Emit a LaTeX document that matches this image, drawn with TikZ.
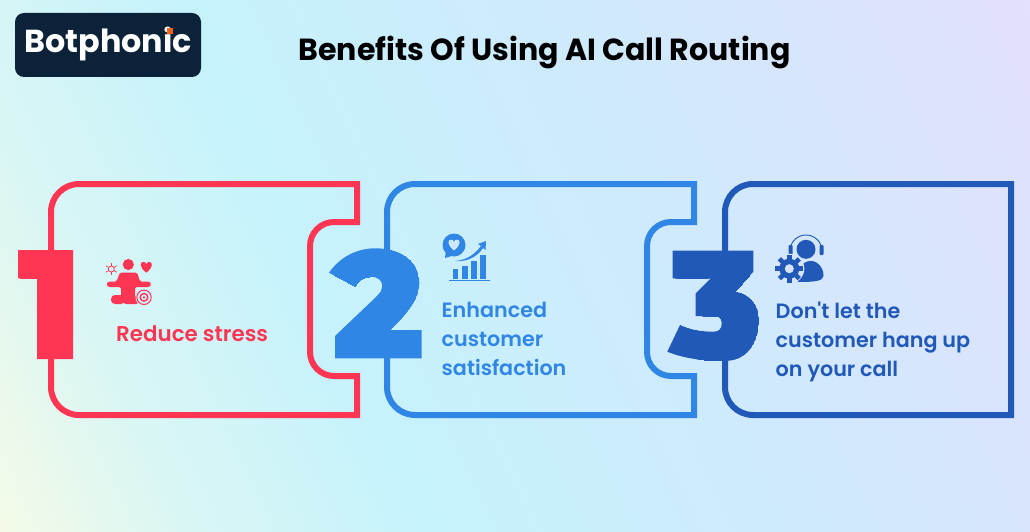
\documentclass[tikz,border=0pt]{standalone}
\usepackage{fontspec}
\setmainfont{Poppins}
\newfontfamily\semib[UprightFont=* SemiBold]{Poppins}
\newfontfamily\heavy[UprightFont=* Black]{Poppins}
\definecolor{cred}{HTML}{FF3653}
\definecolor{cblue}{HTML}{2F86E4}
\definecolor{cdark}{HTML}{2159B8}
\definecolor{navy}{HTML}{0B2239}
\definecolor{orng}{HTML}{F0641E}
\definecolor{bga}{HTML}{F8FBE6}
\definecolor{bgb}{HTML}{D9F6F4}
\definecolor{bgc}{HTML}{C6F2FC}
\definecolor{bgd}{HTML}{D0E9FD}
\definecolor{bge}{HTML}{E4E0FD}
\definecolor{holea}{HTML}{D2F0FB}
\definecolor{holeb}{HTML}{CDE9FD}
\definecolor{holec}{HTML}{D8E4FC}
\pgfdeclareverticalshading{bggrad}{100bp}{
 color(0bp)=(bga);color(25bp)=(bga);color(33bp)=(bgb);color(42bp)=(bgc);color(58bp)=(bgd);color(75bp)=(bge);color(100bp)=(bge)}
\tikzset{
 framebox/.style={line width=6pt,line join=miter,miter limit=10},
 bodytext/.style={inner sep=0pt,anchor=north west,align=left,font=\semib\fontsize{20.7}{29}\selectfont},
 bignum/.style={inner sep=0pt,anchor=north west},
 heartshape/.pic={\fill (0,.9) .. controls (-1.2,0) and (-1.1,-.9) .. (-.5,-.9) .. controls (-.2,-.9) and (0,-.7) .. (0,-.45) .. controls (0,-.7) and (.2,-.9) .. (.5,-.9) .. controls (1.1,-.9) and (1.2,0) .. (0,.9) -- cycle;},
}
\newcommand\shapeone{(18,250) -- (73,250) -- (73,359) -- (37,359) -- (37,278) -- (18,278) -- cycle}
\newcommand\shapetwo{(329,272.7) .. controls (340,257) and (357,248.3) .. (375,248.3)
 .. controls (402,248.3) and (419.3,262) .. (419.3,283.3)
 .. controls (419.3,297) and (412,309) .. (390.7,330)
 -- (421.7,330) -- (421.7,358.3) -- (335,358.3) -- (335,336) -- (375,298)
 .. controls (381,292) and (382.3,290) .. (382.3,286)
 .. controls (382.3,280) and (377,276.7) .. (371,276.7)
 .. controls (364,276.7) and (358,281) .. (355,286.7) -- cycle}
\newcommand\shapethree{(672.7,250.7) -- (753.3,250.7) -- (753.3,271.7) -- (735,291.7)
 .. controls (750,294) and (759,305) .. (759,320)
 .. controls (759,345) and (745,360.7) .. (726.7,360.7)
 .. controls (705,361) and (685,359) .. (667.3,351.7)
 -- (680,325)
 .. controls (690,330) and (702,331.7) .. (713.3,331.7)
 .. controls (719,331.7) and (721.7,329) .. (721.7,323.3)
 .. controls (721.7,318) and (719,316) .. (713.3,316)
 -- (695.7,316) -- (695.7,293.3) -- (710.7,278.3) -- (672.7,278.3) -- cycle}
\begin{document}
\begin{tikzpicture}[x=1pt,y=-1pt]
\useasboundingbox (0,0) rectangle (1030,532);
\begin{scope}
\clip (0,0) rectangle (1030,532);
\shade[shading=bggrad,shading angle=-65] (-85,-334) rectangle (1115,866);
\end{scope}
% logo
\fill[navy,rounded corners=9pt] (15,13) rectangle (201,77);
\node[inner sep=0pt,anchor=base west,text=white,font=\bfseries\fontsize{31.8}{32}\selectfont] (logo) at (24.3,52.5) {Botphonic};
\fill[orng] (166.5,28) rectangle (172.5,34);
% title
\node[inner sep=0pt,anchor=base west,text=black,font=\bfseries\fontsize{30.5}{31}\selectfont] (title) at (298.3,60.5) {\scalebox{.985}[1]{Benefits Of Using AI Call Routing}};
% frames
\draw[framebox,cred] (357,184) [rounded corners=28pt] -- (51,184) -- (51,415) [sharp corners] -- (357,415) -- (357,376) [rounded corners=24pt] -- (310,376) -- (310,222) [sharp corners] -- (357,222) -- cycle;
\draw[framebox,cblue] (694,184) [rounded corners=28pt] -- (387,184) -- (387,415) [sharp corners] -- (694,415) -- (694,376) [rounded corners=24pt] -- (647,376) -- (647,222) [sharp corners] -- (694,222) -- cycle;
\draw[framebox,cdark] (1011,184) [rounded corners=28pt] -- (725,184) -- (725,415) [sharp corners] -- (1011,415) -- cycle;
% numbers: real digits, fitted to the reference's heavier outlines
\begin{scope}
\clip \shapeone;
\fill[cred] \shapeone;
\node[bignum,text=cred] (n1) at (18,250) {\resizebox{62pt}{109pt}{\heavy 1}};
\end{scope}
\begin{scope}
\clip \shapetwo;
\fill[cblue] \shapetwo;
\node[bignum,text=cblue] (n2) at (329,248) {\resizebox{93pt}{111pt}{\heavy 2}};
\end{scope}
\begin{scope}
\clip \shapethree;
\fill[cdark] \shapethree;
\node[bignum,text=cdark] (n3) at (668,250) {\resizebox{92pt}{111pt}{\heavy 3}};
\end{scope}
% texts
\node[bodytext,text=cred,font=\semib\fontsize{21.4}{29}\selectfont] (t1) at (116,325.5) {Reduce stress};
\node[bodytext,text=cblue] (t2) at (441.5,302) {Enhanced\\customer\\satisfaction};
\node[bodytext,text=cdark] (t3) at (775.5,302) {Don't let the\\customer hang up\\on your call};
% icon 1
\begin{scope}[cred]
\fill (128.3,264.5) circle (5.6);
\path (146.3,267.3) pic[scale=6] {heartshape};
\draw[line width=.7pt] (111.3,269) circle (3);
\foreach \a in {0,60,...,300} \draw[line width=.7pt] (111.3,269) ++(\a+30:3) -- ++(\a+30:3.4);
\fill[rounded corners=1.5pt] (120,272.5) -- (137,272.5) -- (140,281.5) -- (149.5,281.5) -- (151.5,284.5) -- (149.5,287) -- (135,287) -- (135,298) -- (121,298) -- (121,287) -- (108,287) -- (106.5,284.5) -- (108,281.5) -- (116.5,281.5) -- cycle;
\fill[rounded corners=4pt] (111,295) rectangle (125,304);
\fill[rounded corners=3pt] (123,296) rectangle (139,304);
\fill[holea] (144,297.3) circle (8.5);
\draw[line width=1pt] (144,297.3) circle (7.2);
\draw[line width=1.4pt] (144,297.3) circle (3.8);
\fill (144,297.3) circle (1.2);
\end{scope}
% icon 2
\begin{scope}[cblue]
\fill (454,245) circle (11.5);
\fill (446,250) -- (445,258) -- (455,255) -- cycle;
\begin{scope}[holeb]
\path (454,245) pic[scale=6] {heartshape};
\end{scope}
\fill (455,261) .. controls (467,260) and (475,254) .. (481,246) -- (478,244) -- (486,241) -- (485.5,250) -- (483,248) .. controls (477,257) and (467,262) .. (455,261) -- cycle;
\fill (453.3,269) rectangle (458.3,279);
\fill (462.3,266) rectangle (467.7,279);
\fill (471,261) rectangle (476.7,279);
\fill (480,255) rectangle (485.7,279);
\fill (449,280) rectangle (490,281.2);
\end{scope}
% icon 3
\begin{scope}[cdark]
\fill (806,249.3) circle (9.5);
\draw[line width=.9pt] (790,251) arc[start angle=180,end angle=360,radius=16];
\fill[rounded corners=1pt] (788.5,245) rectangle (792.5,255);
\fill[rounded corners=1pt] (819.5,245) rectangle (823.5,255);
\fill (798,282) .. controls (796,268) and (803,261) .. (811,261) .. controls (819,261) and (824,270) .. (823.5,276) .. controls (823,281) and (815,282) .. (798,282) -- cycle;
\fill[holec] (789.3,268.7) circle (15);
\foreach \a in {0,45,...,315}
 \fill[rotate around={\a:(789.3,268.7)}] (787,254.7) rectangle (791.6,262);
\fill (789.3,268.7) circle (10);
\fill[holec] (789.3,268.7) circle (4.5);
\end{scope}
\end{tikzpicture}
\end{document}
